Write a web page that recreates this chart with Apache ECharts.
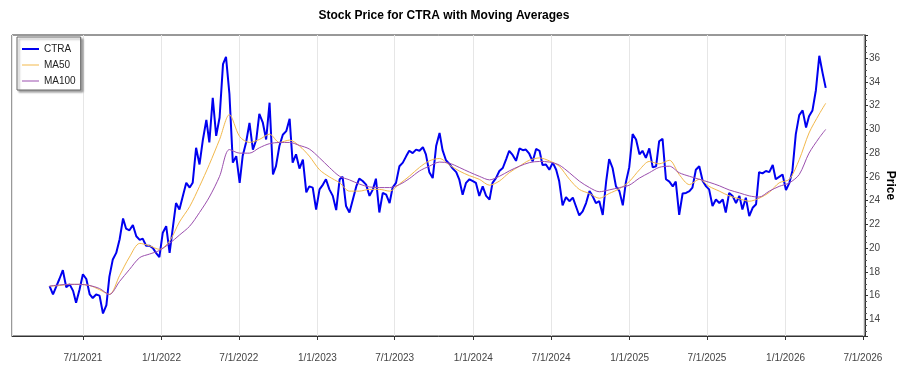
<!DOCTYPE html>
<html>
<head>
<meta charset="utf-8">
<script src="https://cdn.jsdelivr.net/npm/echarts@6/dist/echarts.min.js"></script>
<style>
  html, body { margin: 0; padding: 0; background: #fff; }
  #chart { width: 900px; height: 375px; }
</style>
</head>
<body>
<div id="chart"></div>
<script>
// price samples, one every 7.8 days from 2021-04-14
const startDate = '2021-04-14'
const stepDays = 7.8

const ctra = [
  16.8, 16.1, 16.8, 17.4, 18.15, 16.7, 16.95, 16.4, 15.4, 16.5,
  17.8, 17.4, 16.1, 15.8, 16.1, 16.0, 14.5, 15.2, 17.6, 19.05,
  19.6, 20.75, 22.5, 21.65, 21.5, 21.95, 21.0, 20.7, 20.8, 20.2,
  20.2, 20.0, 19.55, 19.25, 21.3, 21.85, 19.6, 21.85, 23.8, 23.25,
  24.4, 25.5, 25.1, 25.5, 28.45, 27.05, 29.15, 30.8, 28.9, 32.65,
  29.45, 31.0, 35.5, 36.1, 33.0, 27.2, 27.75, 25.5, 27.75, 28.9,
  30.55, 28.3, 29.15, 31.3, 30.6, 29.15, 32.25, 26.2, 26.9, 28.6,
  29.55, 29.85, 30.9, 27.2, 27.9, 26.7, 27.45, 24.7, 25.2,
  25.1, 23.25, 24.95, 25.35, 25.8, 24.95, 24.4, 23.2, 25.8, 26.0,
  23.55, 23.0, 24.1, 25.2, 25.85, 25.65, 25.35, 24.4, 24.95, 25.85,
  23.0, 24.65, 24.5, 23.8, 25.1, 25.5, 26.9, 27.2, 27.75, 28.2,
  28.0, 28.3, 28.2, 28.5, 27.9, 26.4, 25.9, 28.6, 29.7, 28.25,
  27.4, 27.1, 26.7, 26.4, 25.8, 24.5, 25.5, 25.8, 25.65, 25.5,
  24.4, 25.2, 24.4, 24.1, 25.5, 25.9, 26.5, 26.75, 27.5, 28.2,
  27.85, 27.35, 28.4, 28.25, 28.3, 27.95, 27.3, 28.35, 28.2, 27.0,
  27.05, 26.6, 27.2, 26.6, 25.65, 23.6, 24.3,
  23.95, 24.25, 23.55, 22.75, 23.1, 23.8, 24.8, 24.4, 23.8, 23.95,
  22.8, 25.6, 27.5, 26.75, 25.2, 24.8, 23.6, 25.5, 26.8, 29.6,
  29.15, 27.9, 28.2, 27.6, 28.4, 26.8, 26.9, 29.0, 29.2, 25.8,
  25.6, 25.2, 25.6, 22.8, 24.6, 24.65, 24.8, 25.1, 26.6, 26.9,
  25.65, 25.2, 24.95, 23.55, 24.1, 23.8, 24.1, 23.0, 24.65, 24.4,
  23.8, 24.4, 23.25, 24.25, 22.7, 23.4, 23.7, 26.4, 26.3, 26.5,
  26.4, 27.0, 25.8, 26.0, 26.2, 24.9, 25.5, 26.5, 29.6, 31.2,
  31.6, 30.15, 31.1, 31.6, 33.3, 36.2, 34.7, 33.5
]

// moving averages read every third price sample, last one at the final sample
const ma50 = [
  16.8, 16.85, 16.95, 16.95, 16.85, 16.5, 16.1, 17.7, 19.25, 20.4,
  20.2, 19.9, 20.6, 22.2, 23.5, 25.2, 27.05, 29.15, 31.25, 29.4,
  28.9, 29.15, 29.6, 28.9, 29.1, 28.6, 27.75, 26.6, 26.0, 25.5,
  24.8, 24.8, 24.95, 24.95, 24.8, 25.4, 26.05, 26.8, 27.35, 27.55,
  27.0, 26.5, 26.1, 25.8, 25.3, 25.65, 26.35, 26.9, 27.4, 27.6,
  27.35, 26.9, 25.8, 24.95, 24.6, 24.2, 24.6, 25.0, 25.6, 26.6,
  27.3, 27.1, 27.4, 26.2, 25.35, 25.8, 25.2, 24.8, 24.4, 24.15,
  23.95, 24.2, 24.7, 25.5, 25.8, 27.45, 29.7, 31.3,
  32.2
]

const ma100 = [
  16.8, 16.9, 16.95, 16.95, 16.85, 16.6, 16.1, 17.2, 18.2, 19.2,
  19.5, 19.8, 20.4, 21.1, 21.85, 23.0, 24.3, 26.05, 28.3, 28.0,
  28.0, 28.45, 28.8, 28.9, 28.9, 28.65, 28.35, 27.6, 26.8, 26.05,
  25.75, 25.4, 25.15, 25.1, 25.1, 25.35, 25.85, 26.5, 26.9, 27.25,
  27.15, 26.8, 26.4, 26.05, 25.75, 26.05, 26.5, 26.9, 27.2, 27.3,
  27.25, 27.0, 26.35, 25.65, 25.1, 24.75, 24.9, 25.1, 25.3, 25.9,
  26.35, 26.8, 26.9, 26.35, 26.05, 25.8, 25.55, 25.25, 24.9, 24.65,
  24.4, 24.3, 24.8, 25.2, 25.5, 26.2, 28.0, 29.3,
  30.0
]

const DAY = 86400000
const t0 = new Date(startDate + 'T00:00:00').getTime()
const dates = ctra.map((_, i) => t0 + Math.round(i * stepDays) * DAY)
const last = dates.length - 1
const maDates = ma50.map((_, j) => dates[Math.min(j * 3, last)])

const chart = echarts.init(document.getElementById('chart'), null, { renderer: 'canvas' })

const fmtDate = v => {
  const d = new Date(v)
  return `${d.getMonth() + 1}/${d.getDate()}/${d.getFullYear()}`
}

// plain line samples in the legend, thick for price, thin for the averages
const thickLine = 'path://M0,0M0,14M0,6H17V8H0Z'
const thinLine = 'path://M0,0M0,14M0,6.5H17V7.5H0Z'

const option = {
  animation: false,
  backgroundColor: '#fff',
  textStyle: { fontFamily: 'Liberation Sans, Arial, sans-serif' },
  title: {
    text: 'Stock Price for CTRA with Moving Averages',
    left: 439,
    textAlign: 'center',
    top: 5,
    textStyle: { fontSize: 12, fontWeight: 'bold', color: '#000' },
  },
  legend: {
    orient: 'vertical',
    left: 17,
    top: 37,
    padding: [5, 5, 2, 5],
    itemWidth: 17,
    itemHeight: 14,
    itemGap: 2,
    backgroundColor: '#fff',
    borderColor: '#666',
    borderWidth: 1,
    borderRadius: 0,
    shadowColor: 'rgba(0,0,0,0.35)',
    shadowBlur: 2,
    shadowOffsetX: 2,
    shadowOffsetY: 2,
    textStyle: { fontSize: 10, color: '#222', lineHeight: 14 },
    data: [
      { name: 'CTRA', icon: thickLine },
      { name: 'MA50', icon: thinLine },
      { name: 'MA100', icon: thinLine },
    ],
  },
  grid: {
    left: 12, right: 35, top: 35, bottom: 39,
    outerBoundsMode: 'none',
    show: true, borderColor: '#333', borderWidth: 1,
  },
  xAxis: {
    type: 'time',
    min: '2021-01-16',
    max: '2026-07-06',
    splitNumber: 11,
    minInterval: 180 * DAY,
    maxInterval: 185 * DAY,
    axisLine: { show: true, lineStyle: { color: '#333' } },
    axisTick: { show: true, length: 4, lineStyle: { color: '#333' } },
    axisLabel: { formatter: fmtDate, color: '#444', fontSize: 10, margin: 17, hideOverlap: false },
    splitLine: { show: true, lineStyle: { color: '#e6e6e6', width: 1 } },
  },
  yAxis: {
    type: 'value',
    position: 'right',
    min: 12.6,
    max: 37.95,
    splitNumber: 12,
    name: 'Price',
    nameLocation: 'middle',
    nameRotate: -90,
    nameGap: 19,
    nameMoveOverlap: false,
    nameTextStyle: { fontSize: 12, fontWeight: 'bold', color: '#000' },
    axisLine: { show: true, lineStyle: { color: '#333' } },
    axisTick: { show: true, length: 3, lineStyle: { color: '#333' } },
    minorTick: { show: true, splitNumber: 4, length: 2, lineStyle: { color: '#555' } },
    axisLabel: { color: '#444', fontSize: 10, margin: 4, showMinLabel: false, showMaxLabel: false },
    splitLine: { show: false },
  },
  series: [
    {
      name: 'CTRA',
      type: 'line',
      symbol: 'none',
      color: '#0000f0',
      lineStyle: { width: 2 },
      data: ctra.map((v, i) => [dates[i], v]),
      z: 3,
    },
    {
      name: 'MA50',
      type: 'line',
      symbol: 'none',
      smooth: 0.3,
      color: '#f2b84b',
      lineStyle: { width: 1 },
      data: ma50.map((v, j) => [maDates[j], v]),
      z: 4,
    },
    {
      name: 'MA100',
      type: 'line',
      symbol: 'none',
      smooth: 0.3,
      color: '#9b4fae',
      lineStyle: { width: 1 },
      data: ma100.map((v, j) => [maDates[j], v]),
      z: 4,
    },
  ],
}

chart.setOption(option)
window.addEventListener('resize', () => chart.resize())
</script>
</body>
</html>
